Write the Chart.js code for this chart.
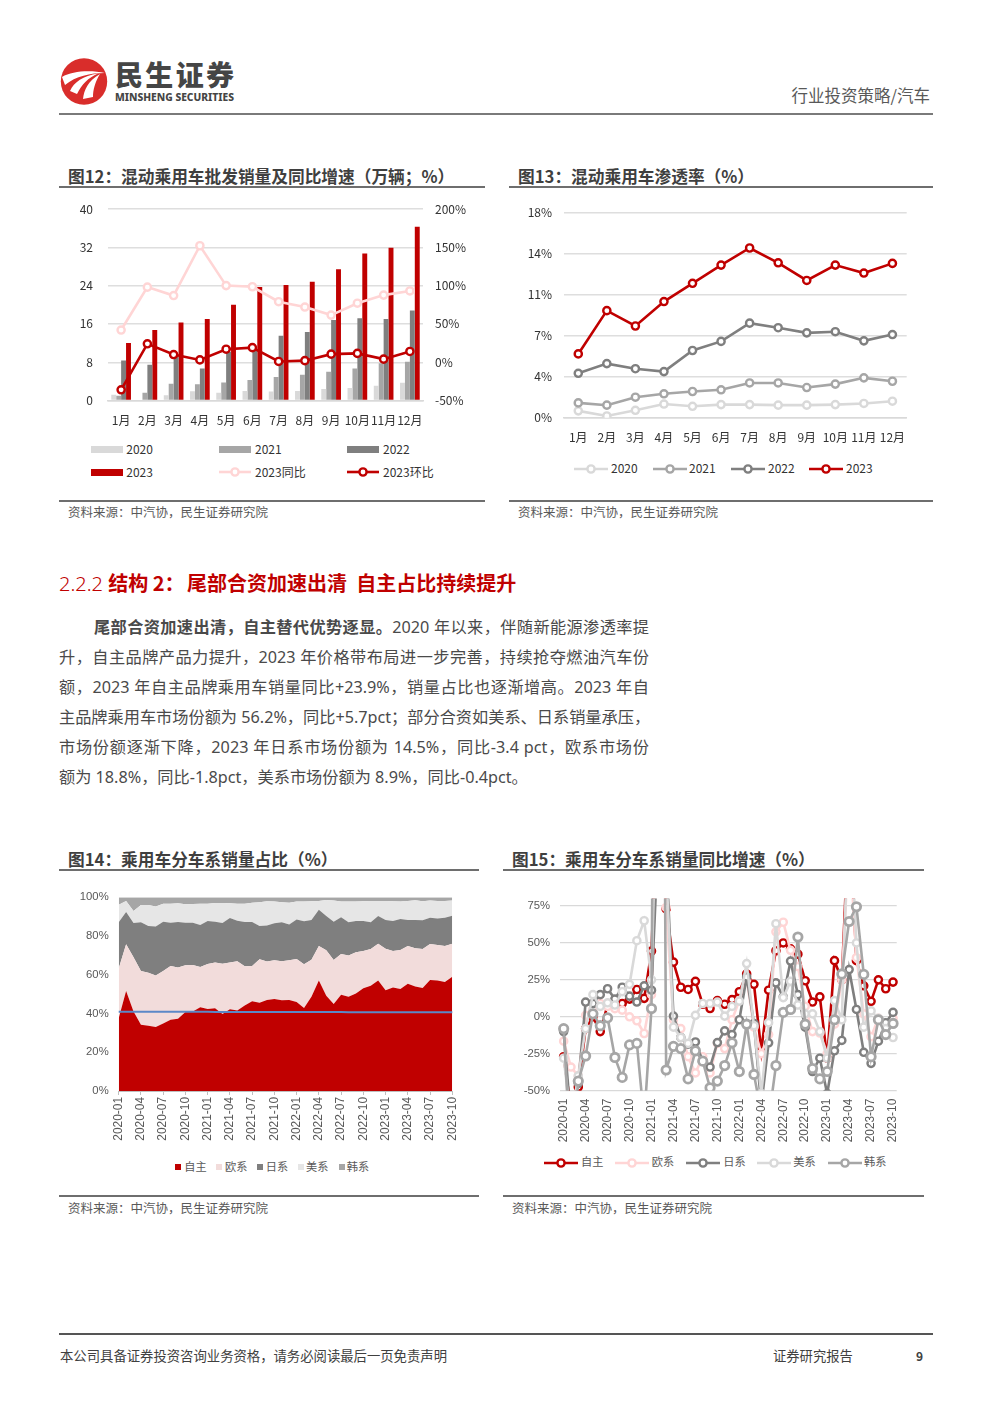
<!DOCTYPE html>
<html lang="zh"><head><meta charset="utf-8">
<script src="https://cdn.jsdelivr.net/npm/chart.js@4/dist/chart.umd.min.js"></script>
<style>
html,body{margin:0;padding:0;background:#fff}
body{position:relative;width:992px;height:1403px;overflow:hidden;font-family:"Noto Sans CJK SC","Noto Sans",sans-serif;color:#404040}
.a{position:absolute;white-space:nowrap;line-height:1}
.rule{position:absolute;background:#6e6e6e}
.title{position:absolute;white-space:nowrap;font-weight:700;font-size:16.7px;line-height:1;color:#3f3f3f}
.src{position:absolute;white-space:nowrap;font-size:12.5px;line-height:1;color:#595959}
.body{position:absolute;left:59px;width:590px;font-family:"Noto Sans","Noto Sans CJK SC",sans-serif;font-size:16.2px;line-height:1;white-space:nowrap;color:#4a4a4a;text-align:justify;text-align-last:justify}
canvas{position:absolute}
.lg{position:absolute;line-height:1;white-space:nowrap}
</style></head><body>

<svg class="a" style="left:40px;top:40px" width="300" height="80" viewBox="0 0 300 80">
<circle cx="44" cy="41.5" r="23.2" fill="#d92d2b"/>
<path d="M22,37 C32,31 50,30 65,33 C50,33 36,36 25,45 Z" fill="#fff"/>
<path d="M30,51 C34,42 43,36 58,33.5 C48,38 42,44 37,54 Z" fill="#fff"/>
<path d="M43,59 C44,50 48,41 60,34 C55,42 53,50 53,57 Z" fill="#fff"/>
<text x="75" y="45.5" font-family="Noto Sans CJK SC" font-weight="900" font-size="28" fill="#454545" textLength="119" lengthAdjust="spacing">民生证券</text>
<text x="75" y="60.5" font-family="Noto Sans" font-weight="800" font-size="10.6" fill="#454545" textLength="119" lengthAdjust="spacingAndGlyphs">MINSHENG SECURITIES</text>
</svg>
<div class="a" style="right:62px;top:87px;font-size:16.5px;color:#595959">行业投资策略/汽车</div>
<div class="rule" style="left:59px;top:113px;width:874px;height:2px;background:#7a7a7a"></div>

<div class="title" style="left:68px;top:168px">图12：混动乘用车批发销量及同比增速（万辆；%）</div>
<div class="rule" style="left:59px;top:185.5px;width:426px;height:2px"></div>
<div class="title" style="left:518px;top:168px">图13：混动乘用车渗透率（%）</div>
<div class="rule" style="left:509px;top:185.5px;width:424px;height:2px"></div>
<div class="rule" style="left:59px;top:499.5px;width:426px;height:2px"></div>
<div class="rule" style="left:509px;top:499.5px;width:424px;height:2px"></div>
<div class="src" style="left:68px;top:506px">资料来源：中汽协，民生证券研究院</div>
<div class="src" style="left:518px;top:506px">资料来源：中汽协，民生证券研究院</div>

<div class="a" style="left:59px;top:573px;font-size:20px;color:#c00000"><span style="font-family:'Noto Sans';font-weight:300">2.2.2 </span><b>结构 2：<span style="margin-left:2.5px">尾部合资加速出清</span>&nbsp;&nbsp;自主占比持续提升</b></div>

<div class="body" style="left:94px;width:555px;top:619px"><b>尾部合资加速出清，自主替代优势逐显。</b>2020 年以来，伴随新能源渗透率提</div>
<div class="body" style="top:649px">升，自主品牌产品力提升，2023 年价格带布局进一步完善，持续抢夺燃油汽车份</div>
<div class="body" style="top:679px">额，2023 年自主品牌乘用车销量同比+23.9%，销量占比也逐渐增高。2023 年自</div>
<div class="body" style="top:709px">主品牌乘用车市场份额为 56.2%，同比+5.7pct；部分合资如美系、日系销量承压，</div>
<div class="body" style="top:739px">市场份额逐渐下降，2023 年日系市场份额为 14.5%，同比-3.4 pct，欧系市场份</div>
<div class="body" style="top:769px;width:auto;text-align:left;text-align-last:left">额为 18.8%，同比-1.8pct，美系市场份额为 8.9%，同比-0.4pct。</div>

<div class="title" style="left:68px;top:851px">图14：乘用车分车系销量占比（%）</div>
<div class="rule" style="left:59px;top:869px;width:420px;height:2px"></div>
<div class="title" style="left:512px;top:851px">图15：乘用车分车系销量同比增速（%）</div>
<div class="rule" style="left:503px;top:869px;width:421px;height:2px"></div>
<div class="rule" style="left:59px;top:1194.5px;width:420px;height:2px"></div>
<div class="rule" style="left:503px;top:1194.5px;width:421px;height:2px"></div>
<div class="src" style="left:68px;top:1201.5px">资料来源：中汽协，民生证券研究院</div>
<div class="src" style="left:512px;top:1201.5px">资料来源：中汽协，民生证券研究院</div>

<div class="rule" style="left:59px;top:1333px;width:874px;height:2px;background:#555"></div>
<div class="a" style="left:60px;top:1349px;font-size:13.35px;color:#404040">本公司具备证券投资咨询业务资格，请务必阅读最后一页免责声明</div>
<div class="a" style="left:773px;top:1349px;font-size:13.3px;color:#404040">证券研究报告</div>
<div class="a" style="left:916px;top:1350px;font-size:12px;font-weight:700;color:#404040">9</div>

<canvas id="c12" style="left:60px;top:195px"></canvas>
<canvas id="c13" style="left:510px;top:200px"></canvas>
<canvas id="c14" style="left:60px;top:885px"></canvas>
<canvas id="c15" style="left:505px;top:890px"></canvas>

<script>
// ---------- Figure 12 ----------
const months = ['1月','2月','3月','4月','5月','6月','7月','8月','9月','10月','11月','12月'];
const sales2020 = [1.2,0.15,1.1,1.95,1.6,2,1.9,2,2.4,2.6,3.1,3.7];
const sales2021 = [1.0,1.6,3.5,3.4,3.75,4.3,4.9,5.4,6,6.7,7.8,8.1];
const sales2022 = [8.35,7.45,9.2,6.7,10.2,10.6,13.5,14.3,16.8,17.2,17,18.8];
const sales2023 = [12,14.7,16.3,17,20,23.7,24.1,24.8,27.4,30.7,31.9,36.3];
const yoy2023 = [42,98,87,152,100,98.5,79,72,61.5,77,87.6,93];
const mom2023 = [-36,24,10,3,17,19,1,2,10.5,11.5,4,14];
// ---------- Figure 13 ----------
const pen2020 = [0.6,0.15,0.65,1.2,1.0,1.15,1.15,1.1,1.1,1.15,1.25,1.45];
const pen2021 = [1.3,1.1,1.8,2.1,2.3,2.45,3.05,3.05,2.65,2.95,3.5,3.2];
const pen2022 = [3.9,4.75,4.3,4.05,5.9,6.7,8.3,7.9,7.45,7.55,6.75,7.3];
const pen2023 = [5.6,9.4,8.05,10.2,11.8,13.4,14.9,13.6,12.05,13.4,12.7,13.55];
// ---------- Figures 14 / 15 ----------
const ym = ['2020-01','2020-02','2020-03','2020-04','2020-05','2020-06','2020-07','2020-08','2020-09','2020-10','2020-11','2020-12',
 '2021-01','2021-02','2021-03','2021-04','2021-05','2021-06','2021-07','2021-08','2021-09','2021-10','2021-11','2021-12',
 '2022-01','2022-02','2022-03','2022-04','2022-05','2022-06','2022-07','2022-08','2022-09','2022-10','2022-11','2022-12',
 '2023-01','2023-02','2023-03','2023-04','2023-05','2023-06','2023-07','2023-08','2023-09','2023-10'];
const shareOwn = [37.5,51.6,41,34.2,33.7,33,34.9,36.8,37.3,40.8,41,43.2,42.3,42.7,39.8,42.2,41.5,44.2,46.3,45.6,47,47.5,46.8,47,46,42.9,48.7,57.1,49.2,44.9,49.7,48.7,50.4,53,54.4,57,52,53.4,52.7,55.4,53.9,53.2,57.3,57,56.3,59];
const shareEU = [25.8,24.1,28,27.8,27.3,26.6,27.1,27.7,26.4,24.1,24,20.8,23.3,23.6,25.9,24.2,25.5,20.2,18.2,22.4,19.8,20,20.2,20.5,22.2,22.5,19.1,17.8,23.4,22.7,21,21.2,21.2,19.3,18.9,19,21.5,18.9,20.1,19.5,19.8,20.1,18.6,18.4,18.6,17];
const shareJP = [23.8,16.7,17.7,25.1,24.2,25.3,25.4,22.4,23.6,22,21.9,21.7,22.2,21.1,21,22.9,20.9,22.9,22.8,17.2,18.6,19.1,20.1,18.4,20.4,22.2,20.5,18.7,17.8,19.8,19,17.2,16.2,15.5,13.8,14.4,14.8,15.5,16,13.4,14.6,14.8,13.6,13.6,14.6,14.5];
const shareUS = [9.1,5.7,6.2,8.9,10.8,10.3,9.3,9.8,9.6,9.5,9.7,11,8.9,9.7,10.4,7.6,8.8,9.4,9.9,12.2,12.5,11.2,10.3,11.3,9.2,10.2,9.6,4.5,8.2,10.9,8.1,10.7,10,10.1,11,7.7,9.8,10.1,9,9.8,10.2,9.8,8.8,9.1,8.6,7.8];
const shareKR = [3.8,1.9,7.1,4,4,4.8,3.3,3.3,3.1,3.6,3.4,3.3,3.3,2.9,2.9,3.1,3.3,3.3,2.8,2.6,2.1,2.2,2.6,2.8,2.2,2.2,2.1,1.9,1.4,1.7,2.2,2.2,2.2,2.1,1.9,1.9,1.9,2.1,2.2,1.9,1.5,2.1,1.7,1.9,1.9,1.7];
const shareRef = [40.9,40.9,40.9,40.9,40.9,40.9,40.9,40.9,40.9,40.9,40.9,40.9,40.9,40.8,40.8,40.8,40.8,40.8,40.8,40.8,40.8,40.8,40.8,40.8,40.8,40.8,40.8,40.8,40.8,40.8,40.8,40.7,40.7,40.7,40.7,40.7,40.7,40.7,40.7,40.7,40.7,40.7,40.7,40.7,40.7,40.7];
const growOwn = [-27,-62,-47.5,-8,0,-10,8,7,9,12,18.5,12.5,44.5,180,73,37,20,18.5,24,8.5,5.6,11,8.5,11.7,17,29,22,-23,18,44.7,50,46,42.4,24.4,10,13.5,-28,38,25,140,38,21,10.5,25,19,23.5];
const growEU = [-16.5,-34,-40,1,5,9,7,5.5,4.5,0,-2.7,-11.3,15,160,74,-2,-8,-27,-38,-27,-38,-18,-21.5,-2,11,25,-7,-25,-12,57.5,64,45,34,7,-10,-11,-25,-5,25,120,40,2,-13.5,-1,-4.5,-1];
const growJP = [-10,-70,-45,10,9,15,19,12,20,14,10,21,18,130,110,0.5,-14,-18.5,-17,-30,-34,-17.4,-9.5,-12,-2,27,-4.5,-60,-17.6,23,13.5,37.7,15,-7,-37,-28,-52,-23,-16,32,5,-24,-31.5,-16.5,-4,3];
const growUS = [-28,-70,-40,-8,15,7,9.5,8,17,22,51.5,65,25,220,100,-7,-14,-18,1,9,9,10,0.5,7,10.6,36,-6,-52,-4,63,13,24,8,2,2,-10,-28,11,-2,150,50,-7,4,-1,-8,-14];
const growKR = [-8,-100,-43.5,-26.5,2,-6,-0.7,-27.5,-41,-19,-18,-70,5.6,800,-36,-20,-21.5,-42,-23,-30,-48,-43.5,-33,-17.6,-37,-5,-39,-65,-70,-33,3,5,54,-5,-35,-42,-37,-2,29,64.5,74.5,28.7,-27,-2,-12,-4.5];

const C = {red:'#c00000',pink:'#ffd5d5',g1:'#d9d9d9',g2:'#a6a6a6',g3:'#7f7f7f'};
const CJK = '"Noto Sans CJK SC","Noto Sans",sans-serif';
const HEL = '"Liberation Sans","Noto Sans CJK SC",sans-serif';
Chart.defaults.animation = false;
Chart.defaults.responsive = false;
Chart.defaults.plugins.legend.display = false;
Chart.defaults.plugins.tooltip.enabled = false;

function size(id,w,h){const c=document.getElementById(id);c.width=w;c.height=h;c.style.width=w+'px';c.style.height=h+'px';return c;}
function fixW(w){return s=>{s.width=w;s.paddingTop=0;s.paddingBottom=0;};}
function fixH(h){return s=>{s.height=h;s.paddingLeft=0;s.paddingRight=0;};}
function every3(s){s.ticks=s.ticks.filter((t,i)=>i%3===0);}
function lineDs(label,data,color,o){return Object.assign({type:'line',label,data,borderColor:color,borderWidth:2.6,pointRadius:3.6,pointBorderWidth:2.4,pointBackgroundColor:'#fff',pointBorderColor:color,tension:0,fill:false},o||{});}
function pin(chart,top){const d=top-chart.chartArea.top;if(Math.abs(d)>0.01){chart.options.layout.padding.top+=d;chart.update();}return chart;}

pin(new Chart(size('c12',430,240),{type:'bar',
 data:{labels:months,datasets:[
  lineDs('2023环比',mom2023,C.red,{yAxisID:'y1',order:0}),
  lineDs('2023同比',yoy2023,C.pink,{yAxisID:'y1',order:1}),
  {label:'2020',data:sales2020,backgroundColor:C.g1,yAxisID:'y',order:2},
  {label:'2021',data:sales2021,backgroundColor:C.g2,yAxisID:'y',order:2},
  {label:'2022',data:sales2022,backgroundColor:C.g3,yAxisID:'y',order:2},
  {label:'2023',data:sales2023,backgroundColor:C.red,yAxisID:'y',order:2}
 ]},
 options:{barPercentage:1,categoryPercentage:0.75,layout:{padding:{top:14,right:0,bottom:0,left:0}},
 scales:{
  x:{afterFit:fixH(34.5),grid:{display:false},border:{color:'#d9d9d9',width:1.5},ticks:{autoSkip:false,maxRotation:0,minRotation:0,padding:5,color:'#333',font:{family:CJK,size:12}}},
  y:{position:'left',min:0,max:40,afterFit:fixW(48),ticks:{stepSize:8,padding:15,color:'#333',font:{family:CJK,size:12}},grid:{color:'#dedede',lineWidth:1.4,drawTicks:false},border:{display:false}},
  y1:{position:'right',min:-50,max:200,afterFit:fixW(67),ticks:{stepSize:50,padding:12,color:'#333',font:{family:CJK,size:12},callback:v=>v+'%'},grid:{display:false,drawTicks:false},border:{display:false}}
 }}}),14);

pin(new Chart(size('c13',415,245),{type:'line',
 data:{labels:months,datasets:[
  lineDs('2023',pen2023,C.red),lineDs('2022',pen2022,C.g3),lineDs('2021',pen2021,C.g2),lineDs('2020',pen2020,C.g1)
 ]},
 options:{layout:{padding:{top:12.7,right:18.3,bottom:0,left:0}},
 scales:{
  x:{offset:true,afterFit:fixH(27.3),grid:{display:false},border:{color:'#d9d9d9',width:1.5},ticks:{autoSkip:false,maxRotation:0,minRotation:0,padding:5,color:'#333',font:{family:CJK,size:12}}},
  y:{min:0,max:18,afterFit:fixW(54),ticks:{stepSize:3.6,padding:12,color:'#333',font:{family:CJK,size:12},callback:v=>Math.round(v)+'%'},grid:{color:'#dedede',lineWidth:1.4,drawTicks:false},border:{display:false}}
 }}}),12.7);

pin(new Chart(size('c14',410,265),{type:'line',
 data:{labels:ym,datasets:[
  {label:'',data:shareRef,borderColor:'#5b88c8',borderWidth:2,pointRadius:0,fill:false,stack:'ref',order:-1},
  {label:'自主',data:shareOwn,backgroundColor:C.red,borderWidth:0,pointRadius:0,fill:'origin',stack:'s'},
  {label:'欧系',data:shareEU,backgroundColor:'#f2dcdb',borderWidth:0,pointRadius:0,fill:'-1',stack:'s'},
  {label:'日系',data:shareJP,backgroundColor:C.g3,borderWidth:0,pointRadius:0,fill:'-1',stack:'s'},
  {label:'美系',data:shareUS,backgroundColor:'#e6e6e6',borderWidth:0,pointRadius:0,fill:'-1',stack:'s'},
  {label:'韩系',data:shareKR,backgroundColor:C.g2,borderWidth:0,pointRadius:0,fill:'-1',stack:'s'}
 ]},
 options:{layout:{padding:{top:12.3,right:17.7,bottom:0,left:0}},
 scales:{
  x:{afterBuildTicks:every3,afterFit:fixH(59),grid:{drawOnChartArea:false,drawTicks:true,tickLength:4,color:'#bfbfbf'},border:{color:'#bfbfbf'},ticks:{autoSkip:false,minRotation:90,maxRotation:90,padding:2,color:'#595959',font:{family:HEL,size:11.9}}},
  y:{stacked:true,min:0,max:100,afterFit:fixW(58.7),ticks:{stepSize:20,padding:10,color:'#595959',font:{family:HEL,size:11.3},callback:v=>v+'%'},grid:{display:false,drawTicks:false},border:{display:false}}
 }}}),12.3);

pin(new Chart(size('c15',410,260),{type:'line',
 data:{labels:ym,datasets:[
  lineDs('韩系',growKR,C.g2,{pointRadius:4.2,pointBorderWidth:2.8}),
  lineDs('美系',growUS,C.g1),
  lineDs('日系',growJP,C.g3),
  lineDs('欧系',growEU,C.pink),
  lineDs('自主',growOwn,C.red)
 ]},
 options:{layout:{padding:{top:8.6,right:18.3,bottom:0,left:0}},
 scales:{
  x:{offset:true,afterBuildTicks:every3,afterFit:fixH(59.3),grid:{display:false},border:{display:false},ticks:{autoSkip:false,minRotation:90,maxRotation:90,padding:0,color:'#595959',font:{family:HEL,size:11.9}}},
  y:{min:-50,max:80,afterFit:fixW(55),ticks:{stepSize:25,includeBounds:false,padding:10,color:'#595959',font:{family:HEL,size:11.3},callback:v=>v+'%'},grid:{color:'#d9d9d9',lineWidth:1.2,drawTicks:false},border:{display:false}}
 }}}),8.6);

// ---------- Legends, placed as in the reference ----------
function lgText(t,x,y,size,col,fam){const d=document.createElement('div');d.className='lg';d.textContent=t;d.style.cssText=`left:${x}px;top:${y-size*0.56}px;font-size:${size}px;color:${col};font-family:${fam}`;document.body.appendChild(d);}
function lgBox(x,y,w,h,col){const d=document.createElement('div');d.className='lg';d.style.cssText=`left:${x}px;top:${y-h/2}px;width:${w}px;height:${h}px;background:${col}`;document.body.appendChild(d);}
function lgLine(x,y,w,col,r){const s=document.createElementNS('http://www.w3.org/2000/svg','svg');s.setAttribute('width',w);s.setAttribute('height',14);s.style.cssText=`position:absolute;left:${x}px;top:${y-7}px`;s.innerHTML=`<line x1="0" y1="7" x2="${w}" y2="7" stroke="${col}" stroke-width="2.6"/><circle cx="${w/2}" cy="7" r="${r||3.6}" fill="#fff" stroke="${col}" stroke-width="2.4"/>`;document.body.appendChild(s);}
const T='#333',G='#595959';
[['2020',91,449.7,C.g1,126.3],['2021',219.3,449.7,C.g2,255],['2022',347.3,449.7,C.g3,383],['2023',91,472.3,C.red,126.3]].forEach(a=>{lgBox(a[1],a[2],32,7,a[3]);lgText(a[0],a[4],a[2],12,T,CJK);});
[['2023同比',219.3,472.3,C.pink,255],['2023环比',347.3,472.3,C.red,383]].forEach(a=>{lgLine(a[1],a[2],32,a[3]);lgText(a[0],a[4],a[2],12,T,CJK);});
[['2020',574.3,C.g1,611],['2021',652.7,C.g2,689],['2022',730.7,C.g3,768],['2023',809,C.red,846]].forEach(a=>{lgLine(a[1],469,34,a[2]);lgText(a[0],a[3],469,12,T,CJK);});
[['自主',175,C.red,184.3],['欧系',216,'#f2dcdb',225],['日系',257.3,C.g3,265.7],['美系',297.7,'#e6e6e6',306],['韩系',338.7,C.g2,346.7]].forEach(a=>{lgBox(a[1],1167.3,6,6,a[2]);lgText(a[0],a[3],1167.3,11.2,G,CJK);});
[['自主',544.3,C.red,581],['欧系',615,C.pink,651.7],['日系',686,C.g3,723.3],['美系',757.3,C.g1,793.3],['韩系',828.3,C.g2,864]].forEach(a=>{lgLine(a[1],1162.7,34,a[2]);lgText(a[0],a[3],1162.7,11.2,G,CJK);});
</script>
</body></html>
